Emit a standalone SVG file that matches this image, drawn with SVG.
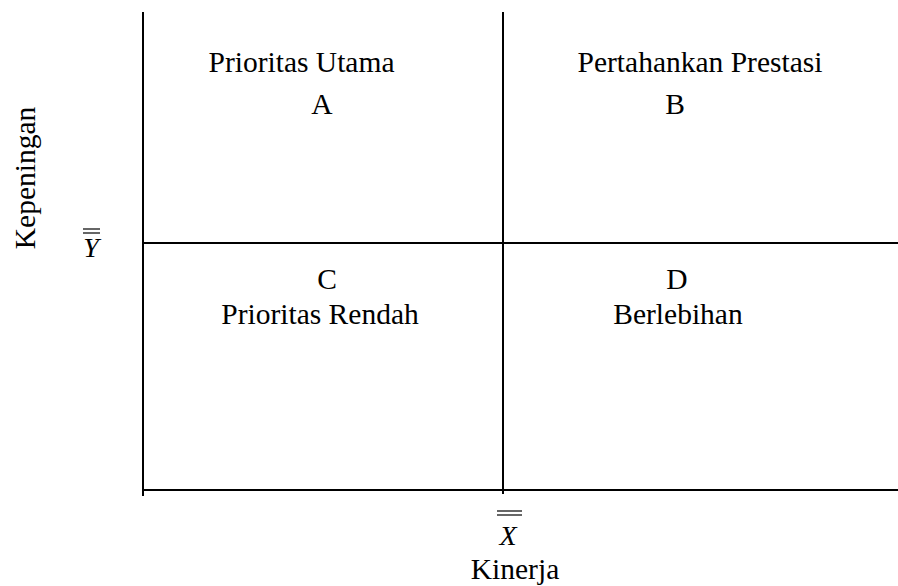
<svg xmlns="http://www.w3.org/2000/svg" width="898" height="586" viewBox="0 0 898 586">
  <style>
    .lbl { font-family: "Liberation Serif", "Times New Roman", serif; font-size: 29.5px; fill: #000; text-anchor: middle; }
    .sym { font-family: "Liberation Serif", "Times New Roman", serif; font-size: 28px; font-style: italic; fill: #000; text-anchor: middle; }
    .axis { stroke: #000; stroke-width: 2; fill: none; }
    .bar { stroke: #000; stroke-width: 1.2; fill: none; }
  </style>
  <rect width="898" height="586" fill="#fff"/>

  <!-- quadrant axes -->
  <g id="axes">
    <line class="axis" x1="143" y1="12" x2="143" y2="496"/>
    <line class="axis" x1="503" y1="12" x2="503" y2="494"/>
    <line class="axis" x1="143" y1="243" x2="898" y2="243"/>
    <line class="axis" x1="143" y1="490" x2="898" y2="490"/>
  </g>

  <!-- quadrant A -->
  <g id="quadrant-a">
    <text class="lbl" x="301.5" y="72">Prioritas Utama</text>
    <text class="lbl" x="322" y="114">A</text>
  </g>

  <!-- quadrant B -->
  <g id="quadrant-b">
    <text class="lbl" x="700" y="72">Pertahankan Prestasi</text>
    <text class="lbl" x="675" y="114">B</text>
  </g>

  <!-- quadrant C -->
  <g id="quadrant-c">
    <text class="lbl" x="327" y="289">C</text>
    <text class="lbl" x="320" y="324">Prioritas Rendah</text>
  </g>

  <!-- quadrant D -->
  <g id="quadrant-d">
    <text class="lbl" x="677" y="289">D</text>
    <text class="lbl" x="678" y="324">Berlebihan</text>
  </g>

  <!-- vertical axis label and mean -->
  <g id="y-axis-label">
    <text class="lbl" transform="translate(35,178) rotate(-90)" x="0" y="0">Kepeningan</text>
    <line class="bar" x1="83" y1="229" x2="100" y2="229"/>
    <line class="bar" x1="83" y1="233" x2="100" y2="233"/>
    <text class="sym" x="91" y="257">Y</text>
  </g>

  <!-- horizontal axis label and mean -->
  <g id="x-axis-label">
    <line class="bar" x1="497" y1="511" x2="522" y2="511"/>
    <line class="bar" x1="497" y1="515" x2="522" y2="515"/>
    <text class="sym" x="508" y="545">X</text>
    <text class="lbl" x="515" y="579">Kinerja</text>
  </g>
</svg>
